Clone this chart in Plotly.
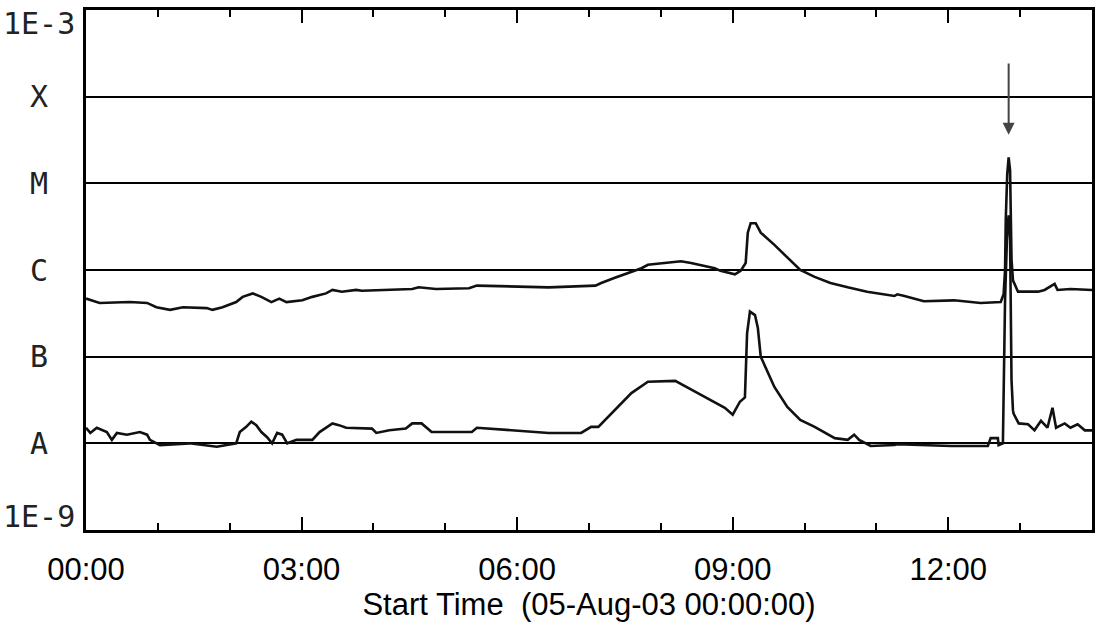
import numpy as np
import plotly.graph_objects as go

# ---- data (hours since 05-Aug-03 00:00 UT, log10 flux W/m^2) ----
long_hours = [0.00, 0.19, 0.61, 0.85, 0.98, 1.17, 1.35, 1.68, 1.76, 1.90, 2.09, 2.18, 2.32, 2.44,
              2.58, 2.69, 2.79, 3.01, 3.15, 3.34, 3.43, 3.56, 3.76, 3.84, 4.54, 4.63, 4.87, 5.33,
              5.44, 6.44, 7.09, 7.17, 7.36, 7.55, 7.73, 7.82, 8.10, 8.28, 8.42, 8.61, 8.75, 8.83,
              9.03, 9.11, 9.18, 9.21, 9.25, 9.32, 9.39, 9.58, 9.76, 9.94, 10.14, 10.36, 10.60,
              10.87, 11.25, 11.29, 11.39, 11.66, 12.08, 12.45, 12.73, 12.77, 12.79, 12.80, 12.82,
              12.83, 12.84, 12.86, 12.87, 12.88, 12.90, 12.94, 12.97, 13.25, 13.34, 13.48, 13.52,
              13.70, 14.00]
long_log = [-6.33, -6.38, -6.37, -6.38, -6.43, -6.46, -6.43, -6.44, -6.46, -6.43, -6.37, -6.31, -6.27, -6.31,
            -6.37, -6.33, -6.37, -6.35, -6.31, -6.27, -6.23, -6.25, -6.23, -6.24, -6.22, -6.20, -6.22, -6.21,
            -6.18, -6.20, -6.18, -6.15, -6.09, -6.03, -5.98, -5.94, -5.92, -5.90, -5.92, -5.95, -5.98, -6.01,
            -6.05, -6.01, -5.92, -5.57, -5.46, -5.46, -5.57, -5.71, -5.86, -6.00, -6.08, -6.15, -6.20,
            -6.25, -6.30, -6.28, -6.30, -6.36, -6.35, -6.38, -6.37, -6.28, -6.00, -5.42, -4.90,
            -4.73, -4.70, -4.85, -5.42, -5.88, -6.12, -6.20, -6.25, -6.25, -6.23, -6.16, -6.23,
            -6.22, -6.23]

short_hours = [0.00, 0.06, 0.15, 0.29, 0.36, 0.43, 0.57, 0.75, 0.85, 0.89, 1.03, 1.35, 1.44, 1.82,
               2.09, 2.14, 2.23, 2.30, 2.37, 2.44, 2.52, 2.59, 2.66, 2.73, 2.80, 2.93, 3.15, 3.25,
               3.43, 3.52, 3.62, 3.98, 4.04, 4.22, 4.45, 4.54, 4.67, 4.81, 5.37, 5.44, 6.44, 6.89,
               7.03, 7.13, 7.36, 7.59, 7.82, 8.20, 8.38, 8.65, 8.89, 9.00, 9.10, 9.17, 9.20, 9.24,
               9.31, 9.35, 9.39, 9.58, 9.76, 9.94, 10.14, 10.42, 10.60, 10.69, 10.76, 10.92, 11.25,
               11.29, 12.04, 12.55, 12.59, 12.69, 12.70, 12.76, 12.77, 12.79, 12.82, 12.84, 12.86,
               12.87, 12.88, 12.90, 12.91, 12.98, 13.11, 13.20, 13.29, 13.38, 13.45, 13.50, 13.62,
               13.70, 13.80, 13.90, 14.00]
short_log = [-7.82, -7.88, -7.82, -7.87, -7.96, -7.88, -7.90, -7.87, -7.90, -7.96, -8.02, -8.00, -8.00, -8.04,
             -8.00, -7.87, -7.81, -7.75, -7.79, -7.87, -7.93, -8.00, -7.88, -7.90, -8.00, -7.96, -7.96, -7.87,
             -7.77, -7.79, -7.82, -7.83, -7.88, -7.85, -7.83, -7.77, -7.77, -7.87, -7.87, -7.82, -7.88, -7.88,
             -7.81, -7.81, -7.62, -7.42, -7.29, -7.28, -7.36, -7.48, -7.59, -7.67, -7.52, -7.47, -6.73, -6.48,
             -6.52, -6.67, -7.00, -7.35, -7.58, -7.73, -7.81, -7.94, -7.96, -7.90, -7.96, -8.03, -8.02,
             -8.01, -8.03, -8.03, -7.94, -7.94, -8.02, -8.00, -7.27, -6.35, -5.54, -5.37, -5.65,
             -6.35, -7.27, -7.62, -7.66, -7.77, -7.78, -7.85, -7.74, -7.82, -7.59, -7.82, -7.77,
             -7.82, -7.78, -7.85, -7.85]

x_tick_hours = [0, 3, 6, 9, 12]
x_tick_labels = ["00:00", "03:00", "06:00", "09:00", "12:00"]
y_levels = [1e-9, 1e-8, 1e-7, 1e-6, 1e-5, 1e-4, 1e-3]
y_labels = ["1E-9", "A", "B", "C", "M", "X", "1E-3"]

x_range = [0, 14]
flare_hour = 12.84
arrow_top_log = -3.60
arrow_tip_log = -4.44

fig = go.Figure()
fig.add_trace(go.Scatter(x=long_hours, y=10 ** np.array(long_log), mode="lines",
                         line=dict(color="#111111", width=2.6), showlegend=False))
fig.add_trace(go.Scatter(x=short_hours, y=10 ** np.array(short_log), mode="lines",
                         line=dict(color="#111111", width=2.6), showlegend=False))
# invisible helper trace so the mirrored top axis (with its tick marks) is drawn
fig.add_trace(go.Scatter(x=x_range, y=[y_levels[0], y_levels[0]], xaxis="x2", mode="lines",
                         line=dict(width=0), opacity=0, hoverinfo="skip", showlegend=False))

n = len(y_levels)
for i, (lv, lb) in enumerate(zip(y_levels, y_labels)):
    if i == 0:
        anchor, shift = "bottom", -6
    elif i == n - 1:
        anchor, shift = "top", 6
    else:
        anchor, shift = "middle", 0
    fig.add_annotation(x=-0.0466, xref="paper", y=np.log10(lv), yref="y", text=lb,
                       showarrow=False, xanchor="center", yanchor=anchor, yshift=shift,
                       font=dict(family="DejaVu Sans Mono", size=30, color="#222222"))

fig.add_annotation(x=flare_hour, y=arrow_tip_log, ax=flare_hour, ay=arrow_top_log,
                   xref="x", yref="y", axref="x", ayref="y", text="", showarrow=True,
                   arrowhead=2, arrowsize=1.2, arrowwidth=2, arrowcolor="#444444")

tick_common = dict(ticks="inside", ticklen=13, tickwidth=2, tickcolor="black",
                   minor=dict(dtick=1, tick0=0, ticks="inside", ticklen=7, tickwidth=2,
                              tickcolor="black"),
                   showline=True, linewidth=3, linecolor="black",
                   showgrid=False, zeroline=False)

fig.update_layout(
    width=1104, height=633,
    margin=dict(l=86, r=9, t=10, b=103),
    paper_bgcolor="white", plot_bgcolor="white",
    xaxis=dict(range=x_range, tickvals=x_tick_hours, ticktext=x_tick_labels,
               ticklabelstandoff=10,
               tickfont=dict(family="Liberation Sans, Arial", size=31, color="black"),
               title=dict(text="Start Time\u00a0 (05-Aug-03 00:00:00)", standoff=5,
                          font=dict(family="Liberation Sans, Arial", size=31, color="black")),
               **tick_common),
    xaxis2=dict(range=x_range, tickvals=x_tick_hours, overlaying="x", side="top",
                showticklabels=False, **tick_common),
    yaxis=dict(type="log", range=[-9, -3], tickvals=y_levels, showticklabels=False,
               ticks="", showline=True, linewidth=3, linecolor="black", mirror=True,
               showgrid=True, gridcolor="black", gridwidth=2.2, zeroline=False),
)

fig.write_html("out.html", config={"displayModeBar": False},
               post_script="document.body.style.margin='0px';")
